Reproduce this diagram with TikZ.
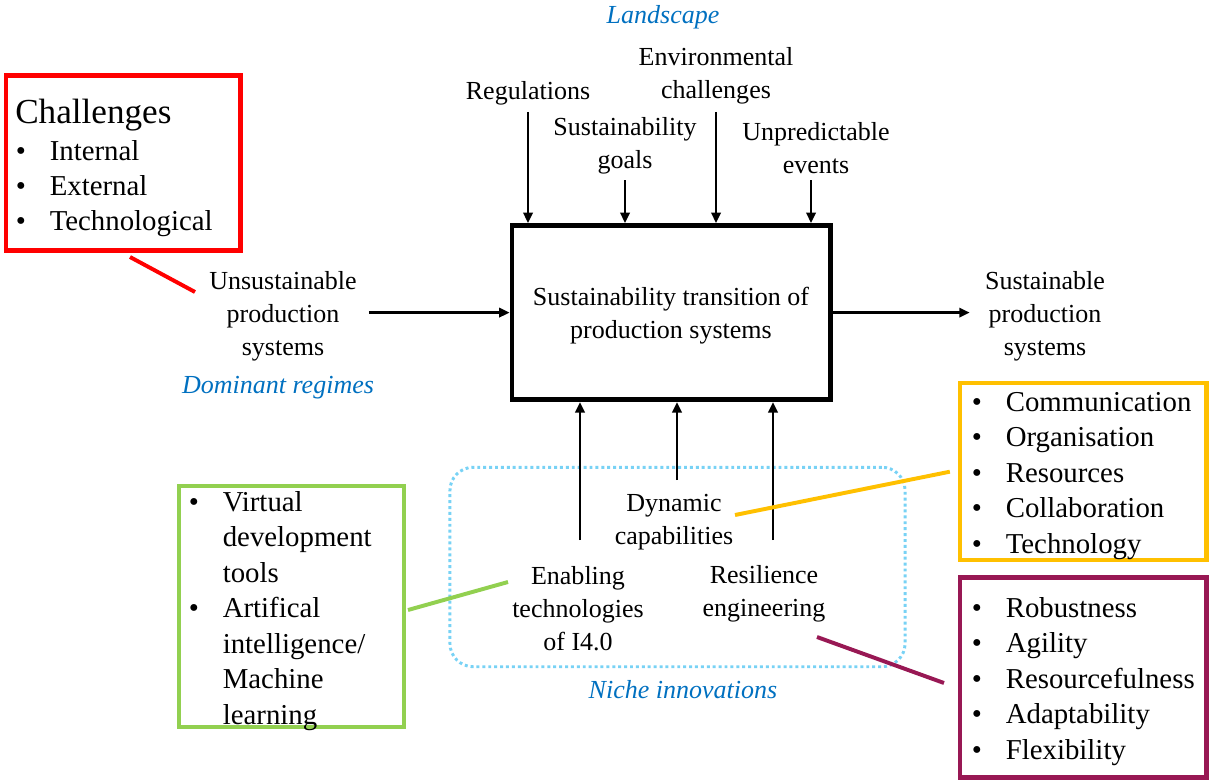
\documentclass[tikz,border=0pt]{standalone}
\usepackage{fontspec}
\setmainfont{Liberation Serif}
\usepackage{xcolor}
\usepackage{tikz}
\usetikzlibrary{arrows.meta}

\definecolor{chred}{RGB}{255,0,0}
\definecolor{dcyellow}{RGB}{255,192,0}
\definecolor{rsplum}{RGB}{152,24,84}
\definecolor{itgreen}{RGB}{146,208,80}
\definecolor{zoneblue}{RGB}{0,112,192}
\definecolor{nicheblue}{RGB}{120,210,245}

\newcommand{\blt}{\makebox[0.85cm][l]{\textbullet}}

\begin{document}
\begin{tikzpicture}[x=0.025cm, y=-0.025cm,
     lbl/.style={align=center, inner sep=0pt, font=\fontsize{18.5}{23.4}\selectfont},
     zone/.style={inner sep=0pt, text=zoneblue, font=\fontsize{18.5}{23.4}\selectfont\itshape},
     lst/.style={anchor=base west, inner sep=0pt, font=\fontsize{20.5}{25.2}\selectfont},
     frame/.style={draw, line width=3pt, inner sep=0pt},
     arr/.style={-{Triangle[length=2.6mm, width=2.3mm]}, line width=2.1pt},
     link/.style={line width=2.8pt}]
     \useasboundingbox (0,0) rectangle (1210,782);

     % niche area
     \node[draw=nicheblue, line width=2.1pt, dash pattern=on 2.1pt off 2.1pt,
           rounded corners=0.58cm, minimum width=11.375cm, minimum height=4.985cm] (niche) at (677.5,567) {};
     \node[zone] (nicheT) at (683,690) {Niche innovations};

     % transition box
     \node[frame, line width=3.4pt, minimum width=7.96cm, minimum height=4.355cm] (main) at (671.25,312.6) {};
     \node[lbl] (mainT) at (671,316) {Sustainability transition of\\production systems};

     % landscape
     \node[zone] (land) at (663,17) {Landscape};
     \node[lbl] (reg) at (528,93) {Regulations};
     \node[lbl] (goal) at (625,146) {Sustainability\\goals};
     \node[lbl] (env) at (716,76) {Environmental\\challenges};
     \node[lbl] (event) at (816,148) {Unpredictable\\events};

     \coordinate (regS) at (528,112);
     \coordinate (goalS) at (625,180);
     \coordinate (envS) at (716,112);
     \coordinate (eventS) at (811,180);
     \draw[arr] (regS) -- (regS |- main.north);
     \draw[arr] (goalS) -- (goalS |- main.north);
     \draw[arr] (envS) -- (envS |- main.north);
     \draw[arr] (eventS) -- (eventS |- main.north);

     % regimes
     \node[lbl] (unsus) at (283,316) {Unsustainable\\production\\systems};
     \node[zone] (dom) at (278,388) {Dominant regimes};
     \node[lbl] (sus) at (1045,316) {Sustainable\\production\\systems};
     \draw[arr] ([xshift=0.3cm]unsus.east |- main.west) -- (main.west);
     \draw[arr] (main.east) -- ([xshift=-0.375cm]sus.west |- main.east);

     % niches
     \node[lbl] (dyn) at (674,522) {Dynamic\\capabilities};
     \node[lbl] (enab) at (578,609) {Enabling\\technologies\\of I4.0};
     \node[lbl] (resil) at (764,594) {Resilience\\engineering};

     \coordinate (enabS) at (580,540);
     \coordinate (dynS) at (677,480);
     \coordinate (resilS) at (773,540);
     \draw[arr] (enabS) -- (enabS |- main.south);
     \draw[arr] (dynS) -- (dynS |- main.south);
     \draw[arr] (resilS) -- (resilS |- main.south);

     % challenges
     \node[frame, draw=chred, minimum width=5.8625cm, minimum height=4.375cm] (chbox) at (123.25,163) {};
     \node[anchor=base west, inner sep=0pt, font=\fontsize{25}{30}\selectfont] (chT) at (15,123) {Challenges};
     \node[lst] (chL) at (15.5,160) {\begin{tabular}[t]{@{}l@{}l@{}}
          \blt & Internal\\ \blt & External\\ \blt & Technological\end{tabular}};

     % dynamic capabilities
     \node[frame, draw=dcyellow, minimum width=6.1625cm, minimum height=4.4175cm] (dcbox) at (1083.25,471.7) {};
     \node[lst] (dcL) at (971.5,411.5) {\begin{tabular}[t]{@{}l@{}l@{}}
          \blt & Communication\\ \blt & Organisation\\ \blt & Resources\\
          \blt & Collaboration\\ \blt & Technology\end{tabular}};

     % resilience
     \node[frame, draw=rsplum, minimum width=6.1625cm, minimum height=5cm] (rsbox) at (1083.25,677.5) {};
     \node[lst] (rsL) at (971.5,617.5) {\begin{tabular}[t]{@{}l@{}l@{}}
          \blt & Robustness\\ \blt & Agility\\ \blt & Resourcefulness\\
          \blt & Adaptability\\ \blt & Flexibility\end{tabular}};

     % I4.0
     \node[frame, draw=itgreen, minimum width=5.625cm, minimum height=6.03cm] (itbox) at (291.2,606.4) {};
     \node[lst] (itL) at (188.5,511.5) {\begin{tabular}[t]{@{}l@{}l@{}}
          \blt & Virtual\\ & development\\ & tools\\
          \blt & Artifical\\ & intelligence/\\ & Machine\\ & learning\end{tabular}};

     % links
     \coordinate (chA) at (130,257);
     \coordinate (chB) at (195,292);
     \coordinate (dcA) at (735,515);
     \coordinate (rsA) at (817,637);
     \coordinate (rsB) at (944,683);
     \coordinate (itA) at (508,582);
     \coordinate (itB) at (408,610);
     \draw[link, chred] (chA) -- (chB);
     \draw[link, dcyellow] (dcA) -- ([xshift=-0.2cm]dcbox.west);
     \draw[link, rsplum] (rsA) -- (rsB);
     \draw[link, itgreen] (itA) -- (itB);
 \end{tikzpicture}
\end{document}
